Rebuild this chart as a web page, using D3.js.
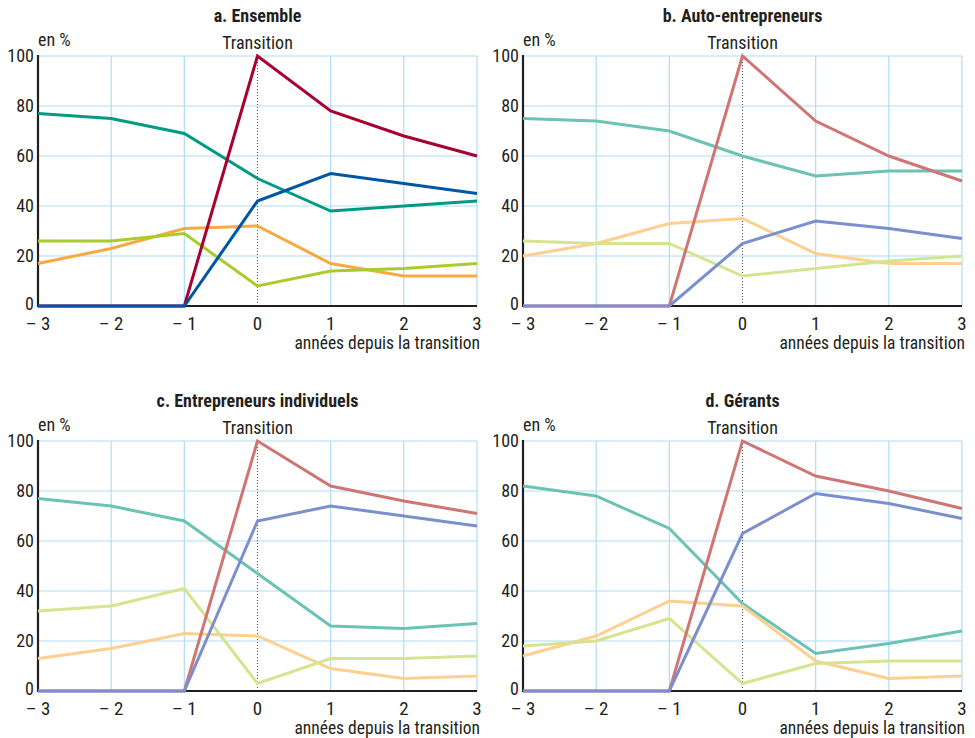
<!DOCTYPE html>
<html lang="fr">
<head>
<meta charset="utf-8">
<script src="https://cdn.jsdelivr.net/npm/d3@7"></script>
<style>
  html, body { margin: 0; padding: 0; background: #fff; }
  svg { display: block; font-family: "Liberation Sans Narrow", "Arial Narrow", "Roboto Condensed", "Liberation Sans", sans-serif; }
</style>
</head>
<body>
<svg id="chart" width="975" height="738"></svg>
<script>
// Four small multiples, years -3..3 around the transition, shares in %.

const years = [-3, -2, -1, 0, 1, 2, 3];
const yTicks = [0, 20, 40, 60, 80, 100];
const titles = ['a. Ensemble', 'b. Auto-entrepreneurs', 'c. Entrepreneurs individuels', 'd. Gérants'];

// a. Ensemble
const ensRouge = [0, 0, 0, 100, 78, 68, 60];
const ensBleu = [0, 0, 0, 42, 53, 49, 45];
const ensVert = [77, 75, 69, 51, 38, 40, 42];
const ensOrange = [17, 23, 31, 32, 17, 12, 12];
const ensJaune = [26, 26, 29, 8, 14, 15, 17];

// b. Auto-entrepreneurs
const aeRouge = [0, 0, 0, 100, 74, 60, 50];
const aeBleu = [0, 0, 0, 25, 34, 31, 27];
const aeVert = [75, 74, 70, 60, 52, 54, 54];
const aeOrange = [20, 25, 33, 35, 21, 17, 17];
const aeJaune = [26, 25, 25, 12, 15, 18, 20];

// c. Entrepreneurs individuels
const eiRouge = [0, 0, 0, 100, 82, 76, 71];
const eiBleu = [0, 0, 0, 68, 74, 70, 66];
const eiVert = [77, 74, 68, 47, 26, 25, 27];
const eiOrange = [13, 17, 23, 22, 9, 5, 6];
const eiJaune = [32, 34, 41, 3, 13, 13, 14];

// d. Gérants
const gRouge = [0, 0, 0, 100, 86, 80, 73];
const gBleu = [0, 0, 0, 63, 79, 75, 69];
const gVert = [82, 78, 65, 35, 15, 19, 24];
const gOrange = [14, 22, 36, 34, 12, 5, 6];
const gJaune = [18, 20, 29, 3, 11, 12, 12];

const strong = { vert: '#009b82', orange: '#f9a940', jaune: '#a9cc2c', rouge: '#a8012f', bleu: '#0056a6' };
const soft = { vert: '#6cc2b3', orange: '#fdd090', jaune: '#d7e48f', rouge: '#cf7674', bleu: '#7b8fcf' };

const panels = [
  { title: titles[0], x0: 38, y0: 56, pal: strong, s: { vert: ensVert, orange: ensOrange, jaune: ensJaune, rouge: ensRouge, bleu: ensBleu } },
  { title: titles[1], x0: 523, y0: 56, pal: soft, s: { vert: aeVert, orange: aeOrange, jaune: aeJaune, rouge: aeRouge, bleu: aeBleu } },
  { title: titles[2], x0: 38, y0: 441, pal: soft, s: { vert: eiVert, orange: eiOrange, jaune: eiJaune, rouge: eiRouge, bleu: eiBleu } },
  { title: titles[3], x0: 523, y0: 441, pal: soft, s: { vert: gVert, orange: gOrange, jaune: gJaune, rouge: gRouge, bleu: gBleu } },
];

const W = 439, H = 250;
const ink = '#231f20';
const grid = '#b0dcf4';
const svg = d3.select('#chart');

const x = d3.scaleLinear().domain([-3, 3]).range([0, W]);
const y = d3.scaleLinear().domain([0, 100]).range([H, 0]);
const fmtYear = (d) => (d < 0 ? `\u2013 ${-d}` : `${d}`);

panels.forEach((p) => {
  const g = svg.append('g').attr('transform', `translate(${p.x0},${p.y0})`);

  // grid
  g.append('g').selectAll('line').data(yTicks).join('line')
    .attr('x1', 0).attr('x2', W).attr('y1', (d) => y(d)).attr('y2', (d) => y(d))
    .style('stroke', grid).attr('stroke-width', 1.2);
  g.append('g').selectAll('line').data(years.filter((d) => d !== 0)).join('line')
    .attr('x1', (d) => x(d)).attr('x2', (d) => x(d)).attr('y1', 0).attr('y2', H)
    .style('stroke', grid).attr('stroke-width', 1.2);

  // transition marker
  g.append('line')
    .attr('x1', x(0)).attr('x2', x(0)).attr('y1', 0).attr('y2', H)
    .style('stroke', '#555').attr('stroke-width', 1).attr('stroke-dasharray', '1,2');

  // axes
  g.append('line').attr('x1', 0).attr('x2', 0).attr('y1', -1).attr('y2', H + 1)
    .style('stroke', ink).attr('stroke-width', 2.2);
  g.append('line').attr('x1', 0).attr('x2', W).attr('y1', H).attr('y2', H)
    .style('stroke', ink).attr('stroke-width', 2.2);

  // y tick labels
  g.append('g').selectAll('text').data(yTicks).join('text')
    .attr('x', -4).attr('y', (d) => y(d)).attr('dy', (d) => (d === 0 ? '0.2em' : '0.36em'))
    .attr('text-anchor', 'end')
    .style('fill', ink).style('font-size', '18px')
    .text((d) => d);

  // x tick labels
  g.append('g').selectAll('text').data(years).join('text')
    .attr('x', (d) => x(d)).attr('y', H + 24).attr('text-anchor', 'middle')
    .style('fill', ink).style('font-size', '19px')
    .text(fmtYear);

  g.append('text').attr('x', W + 3).attr('y', H + 43).attr('text-anchor', 'end')
    .style('fill', ink).style('font-size', '17.5px')
    .text('années depuis la transition');

  g.append('text').attr('x', 0).attr('y', -10)
    .style('fill', ink).style('font-size', '18px').text('en %');
  g.append('text').attr('x', x(0)).attr('y', -7).attr('text-anchor', 'middle')
    .style('fill', ink).style('font-size', '18px').text('Transition');
  g.append('text').attr('x', x(0)).attr('y', -34).attr('text-anchor', 'middle')
    .style('fill', ink).style('font-size', '18px').style('font-weight', 700).text(p.title);

  // series, later ones on top
  const line = d3.line().x((d, i) => x(years[i])).y((d) => y(d));
  ['vert', 'orange', 'jaune', 'rouge', 'bleu'].forEach((k) => {
    g.append('path').datum(p.s[k]).attr('d', line)
      .style('fill', 'none').style('stroke', p.pal[k])
      .attr('stroke-width', 3).attr('stroke-linejoin', 'miter');
  });
});
</script>
</body>
</html>
